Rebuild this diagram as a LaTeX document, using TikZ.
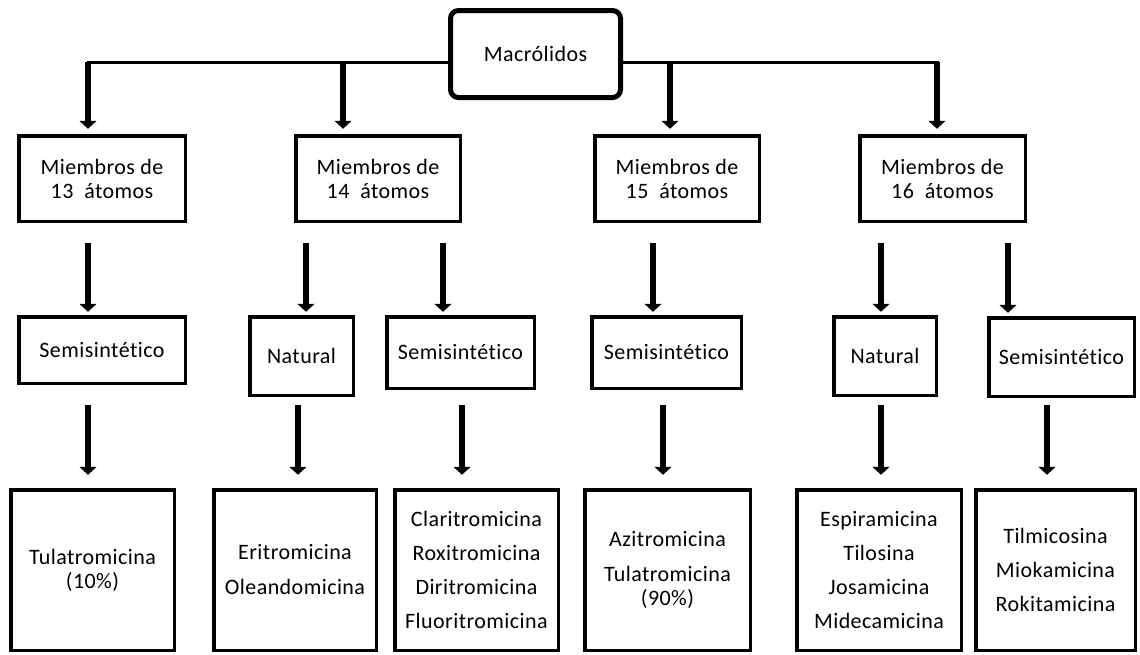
\documentclass[tikz,border=0pt]{standalone}
\usepackage{fontspec}
\setmainfont{Carlito}[LetterSpace=2,Ligatures=NoCommon]
\usetikzlibrary{arrows.meta}
\tikzset{
  box/.style={draw=black, line width=3.5pt, fill=white, inner sep=0pt, outer sep=0pt, align=center, font=\fontsize{22}{24}\selectfont},
  topbox/.style={box, line width=5pt, rounded corners=8pt},
  hline/.style={line width=3pt, line cap=rect},
  arr/.style={line width=6.5pt, -{Triangle[width=17pt,length=8pt]}},
}
\newcommand\bx[7][box]{%
  \node[#1, minimum width={#4-#3-3.5}, minimum height={#6-#5-3.5}] (#2) at ({(#3+#4)/2},{(#5+#6)/2}) {#7};}
\begin{document}
\begin{tikzpicture}[x=1pt,y=-1pt]
\useasboundingbox (0,0) rectangle (1140,654);
% top
\node[topbox, minimum width=170, minimum height=87] (mac) at (535.5,54) {Macrólidos};
% level 1
\bx{m13}{17}{187}{134}{223}{Miembros de\\13~ átomos}
\bx{m14}{294}{462}{134}{223}{Miembros de\\14~ átomos}
\bx{m15}{593}{761}{134}{223}{Miembros de\\15~ átomos}
\bx{m16}{858}{1027}{134}{223}{Miembros de\\16~ átomos}
% level 2
\bx{s13}{17}{187}{315}{385}{Semisintético}
\bx{n14}{248}{355}{315}{397}{Natural}
\bx{s14}{385}{536}{315}{390}{Semisintético}
\bx{s15}{590}{743}{315}{390}{Semisintético}
\bx{n16}{832}{938}{315}{397}{Natural}
\bx{s16}{987}{1136}{316}{398}{Semisintético}
% level 3
\bx{t13}{9}{176}{488}{652}{Tulatromicina\\(10\%)}
\bx{t14n}{212}{378}{488}{652}{Eritromicina\\[11pt]Oleandomicina}
\bx{t14s}{393}{560}{488}{652}{Claritromicina\\[10pt]Roxitromicina\\[10pt]Diritromicina\\[10pt]Fluoritromicina}
\bx{t15}{583}{752}{488}{652}{Azitromicina\\[11pt]Tulatromicina\\(90\%)}
\bx{t16n}{795}{963}{488}{652}{Espiramicina\\[10pt]Tilosina\\[10pt]Josamicina\\[10pt]Midecamicina}
\bx{t16s}{974}{1137}{488}{652}{Tilmicosina\\[10pt]Miokamicina\\[10pt]Rokitamicina}
% junction coordinates
\coordinate (j13) at (88,62);
\coordinate (j14) at (343,62);
\coordinate (j15) at (670,62);
\coordinate (j16) at (937,62);
\draw[hline] (mac.west |- j13) -- (j13);
\draw[hline] (mac.east |- j16) -- (j16);
\draw[arr, shorten >=7pt] (j13) -- (j13 |- m13.north);
\draw[arr, shorten >=7pt] (j14) -- (j14 |- m14.north);
\draw[arr, shorten >=7pt] (j15) -- (j15 |- m15.north);
\draw[arr, shorten >=7pt] (j16) -- (j16 |- m16.north);
% level 2 arrows
\coordinate (a1) at (88,243);
\coordinate (a2) at (306,243);
\coordinate (a3) at (443,243);
\coordinate (a4) at (653,243);
\coordinate (a5) at (881,243);
\coordinate (a6) at (1008,243);
\draw[arr, shorten >=5pt] (a1) -- (a1 |- s13.north);
\draw[arr, shorten >=5pt] (a2) -- (a2 |- n14.north);
\draw[arr, shorten >=5pt] (a3) -- (a3 |- s14.north);
\draw[arr, shorten >=5pt] (a4) -- (a4 |- s15.north);
\draw[arr, shorten >=5pt] (a5) -- (a5 |- n16.north);
\draw[arr, shorten >=5pt] (a6) -- (a6 |- s16.north);
% level 3 arrows
\coordinate (b1) at (88,405);
\coordinate (b2) at (298,405);
\coordinate (b3) at (462,405);
\coordinate (b4) at (663,405);
\coordinate (b5) at (881,405);
\coordinate (b6) at (1047,405);
\draw[arr, shorten >=15pt] (b1) -- (b1 |- t13.north);
\draw[arr, shorten >=15pt] (b2) -- (b2 |- t14n.north);
\draw[arr, shorten >=15pt] (b3) -- (b3 |- t14s.north);
\draw[arr, shorten >=15pt] (b4) -- (b4 |- t15.north);
\draw[arr, shorten >=15pt] (b5) -- (b5 |- t16n.north);
\draw[arr, shorten >=15pt] (b6) -- (b6 |- t16s.north);
\end{tikzpicture}
\end{document}
